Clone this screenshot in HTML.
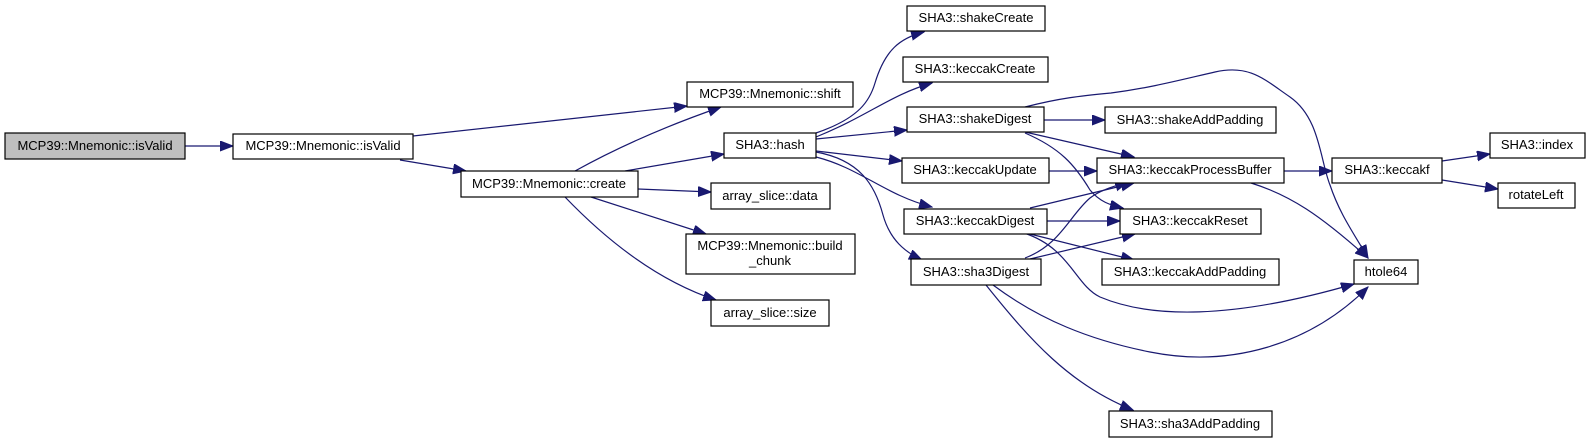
<!DOCTYPE html>
<html><head><meta charset="utf-8"><style>
html,body{margin:0;padding:0;background:#fff;}
svg{display:block;}
text{font-family:"Liberation Sans",Arial,sans-serif;font-size:13px;fill:#000;}
.b{fill:#fff;stroke:#000;stroke-width:1.2;}
.e{fill:none;stroke:#191970;stroke-width:1.2;marker-end:url(#a);}
</style></head><body>
<svg width="1589" height="443" viewBox="0 0 1589 443" xmlns="http://www.w3.org/2000/svg">
<defs><marker id="a" markerUnits="userSpaceOnUse" markerWidth="14" markerHeight="12" refX="13" refY="5" orient="auto"><path d="M0,0 L13,5 L0,10 z" fill="#191970" stroke="#191970"/></marker></defs>

<path class="e" d="M185,146 L233,146"/>
<path class="e" d="M413,136 L687,106"/>
<path class="e" d="M400,160 L466,171"/>
<path class="e" d="M575,171 Q640,135 721,107"/>
<path class="e" d="M625,171 L724,154"/>
<path class="e" d="M638,189 L711,192"/>
<path class="e" d="M591,197 L706,234"/>
<path class="e" d="M565,197 Q640,275 716,300"/>
<path class="e" d="M816,133 C860,118 870,100 875,83 C885,50 900,38 924,32"/>
<path class="e" d="M816,137 C870,115 890,95 932,83"/>
<path class="e" d="M816,139 L907,130"/>
<path class="e" d="M816,151 L902,161"/>
<path class="e" d="M816,157 C860,168 885,195 932,207"/>
<path class="e" d="M816,152 C860,160 875,185 883,215 C890,240 905,252 922,260"/>
<path class="e" d="M1044,120 L1105,120"/>
<path class="e" d="M1025,107 C1060,98 1080,96 1111,93 C1150,88 1180,80 1215,72 C1250,64 1265,80 1290,97 C1320,118 1320,160 1330,185 C1340,215 1355,235 1368,258"/>
<path class="e" d="M1025,132 L1134,157"/>
<path class="e" d="M1025,133 C1060,148 1075,165 1090,190 C1100,202 1110,205 1123,208"/>
<path class="e" d="M1049,171 L1097,171"/>
<path class="e" d="M1030,208 L1134,183"/>
<path class="e" d="M1047,221 L1120,221"/>
<path class="e" d="M1030,234 L1134,260"/>
<path class="e" d="M1024,233 C1070,248 1075,285 1100,297 C1150,318 1230,320 1354,284"/>
<path class="e" d="M1025,258 C1060,245 1070,215 1090,198 C1100,190 1115,186 1128,182"/>
<path class="e" d="M1030,259 L1135,234"/>
<path class="e" d="M993,285 C1040,320 1090,340 1150,352 C1230,368 1310,345 1368,287"/>
<path class="e" d="M986,285 C1030,340 1070,385 1133,410"/>
<path class="e" d="M1284,171 L1332,171"/>
<path class="e" d="M1251,183 C1290,195 1320,215 1368,258"/>
<path class="e" d="M1442,161 L1490,154"/>
<path class="e" d="M1442,180 L1498,189"/>

<rect x="5" y="133" width="180" height="26" fill="#bfbfbf" stroke="#000" stroke-width="1.2"/>
<text x="95" y="150" text-anchor="middle">MCP39::Mnemonic::isValid</text>
<rect class="b" x="233" y="134" width="180" height="25"/><text x="323" y="150" text-anchor="middle">MCP39::Mnemonic::isValid</text>
<rect class="b" x="461" y="171" width="177" height="26"/><text x="549" y="188" text-anchor="middle">MCP39::Mnemonic::create</text>
<rect class="b" x="687" y="82" width="166" height="25"/><text x="770" y="98" text-anchor="middle">MCP39::Mnemonic::shift</text>
<rect class="b" x="724" y="133" width="92" height="25"/><text x="770" y="149" text-anchor="middle">SHA3::hash</text>
<rect class="b" x="711" y="183" width="119" height="26"/><text x="770" y="200" text-anchor="middle">array_slice::data</text>
<rect class="b" x="686" y="234" width="169" height="40"/><text x="770" y="250" text-anchor="middle">MCP39::Mnemonic::build</text><text x="770" y="265" text-anchor="middle">_chunk</text>
<rect class="b" x="711" y="300" width="118" height="26"/><text x="770" y="317" text-anchor="middle">array_slice::size</text>
<rect class="b" x="907" y="6" width="138" height="25"/><text x="976" y="22" text-anchor="middle">SHA3::shakeCreate</text>
<rect class="b" x="903" y="57" width="145" height="25"/><text x="975" y="73" text-anchor="middle">SHA3::keccakCreate</text>
<rect class="b" x="907" y="107" width="137" height="25"/><text x="975" y="123" text-anchor="middle">SHA3::shakeDigest</text>
<rect class="b" x="902" y="158" width="147" height="25"/><text x="975" y="174" text-anchor="middle">SHA3::keccakUpdate</text>
<rect class="b" x="904" y="209" width="143" height="25"/><text x="975" y="225" text-anchor="middle">SHA3::keccakDigest</text>
<rect class="b" x="911" y="259" width="130" height="26"/><text x="976" y="276" text-anchor="middle">SHA3::sha3Digest</text>
<rect class="b" x="1105" y="107" width="171" height="26"/><text x="1190" y="124" text-anchor="middle">SHA3::shakeAddPadding</text>
<rect class="b" x="1097" y="158" width="187" height="25"/><text x="1190" y="174" text-anchor="middle">SHA3::keccakProcessBuffer</text>
<rect class="b" x="1120" y="209" width="141" height="25"/><text x="1190" y="225" text-anchor="middle">SHA3::keccakReset</text>
<rect class="b" x="1102" y="259" width="177" height="26"/><text x="1190" y="276" text-anchor="middle">SHA3::keccakAddPadding</text>
<rect class="b" x="1109" y="411" width="163" height="26"/><text x="1190" y="428" text-anchor="middle">SHA3::sha3AddPadding</text>
<rect class="b" x="1332" y="158" width="110" height="25"/><text x="1387" y="174" text-anchor="middle">SHA3::keccakf</text>
<rect class="b" x="1354" y="260" width="64" height="24"/><text x="1386" y="276" text-anchor="middle">htole64</text>
<rect class="b" x="1490" y="133" width="95" height="25"/><text x="1537" y="149" text-anchor="middle">SHA3::index</text>
<rect class="b" x="1498" y="183" width="77" height="25"/><text x="1536" y="199" text-anchor="middle">rotateLeft</text>
</svg>
</body></html>
